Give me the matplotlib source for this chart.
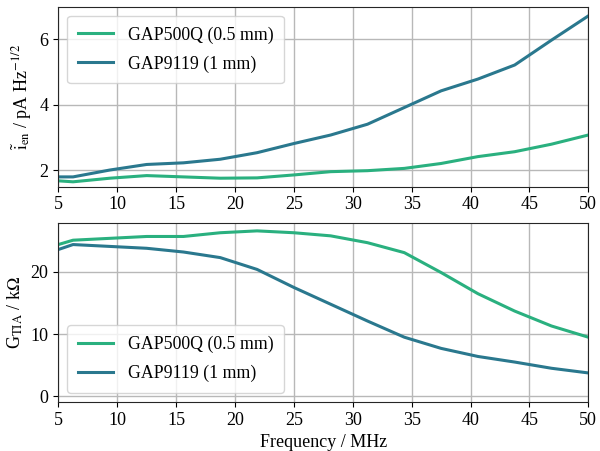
import matplotlib
matplotlib.use("Agg")
import matplotlib.pyplot as plt

freq = [5, 6.25, 9.375, 12.5, 15.625, 18.75, 21.875, 25, 28.125, 31.25,
        34.375, 37.5, 40.625, 43.75, 46.875, 50]

noise_500q = [1.68, 1.65, 1.76, 1.84, 1.80, 1.76, 1.77, 1.86, 1.96, 1.99,
              2.06, 2.21, 2.42, 2.57, 2.80, 3.08]
noise_9119 = [1.80, 1.80, 2.01, 2.18, 2.23, 2.34, 2.54, 2.82, 3.08, 3.41,
              3.92, 4.43, 4.79, 5.22, 5.98, 6.72]

gain_500q = [24.4, 25.1, 25.4, 25.7, 25.7, 26.3, 26.6, 26.3, 25.8, 24.7,
             23.1, 19.9, 16.5, 13.7, 11.3, 9.5]
gain_9119 = [23.6, 24.4, 24.1, 23.8, 23.2, 22.3, 20.4, 17.5, 14.8, 12.1,
             9.5, 7.7, 6.4, 5.5, 4.5, 3.75]

labels = ["GAP500Q (0.5 mm)", "GAP9119 (1 mm)"]
xticks = [5, 10, 15, 20, 25, 30, 35, 40, 45, 50]

plt.rcParams['font.family'] = ['Liberation Serif', 'DejaVu Serif']
plt.rcParams['mathtext.fontset'] = 'stix'
plt.rcParams['font.size'] = 13

c_green = '#2ab07f'
c_blue = '#2a788e'

fig = plt.figure(figsize=(6.0, 4.51), dpi=100)
ax1 = fig.add_axes([0.0972, 0.586, 0.8833, 0.399])
ax2 = fig.add_axes([0.0972, 0.109, 0.8833, 0.397])

ax1.plot(freq, noise_500q, color=c_green, lw=2.2, label=labels[0])
ax1.plot(freq, noise_9119, color=c_blue, lw=2.2, label=labels[1])
ax1.set_xlim(5, 50)
ax1.set_ylim(1.5, 7.0)
ax1.set_yticks([2, 4, 6])
ax1.set_xticks(xticks)
ax1.set_ylabel(r'$\tilde{\mathrm{i}}_{\mathrm{en}}$ / pA Hz$^{-1/2}$', fontsize=13)
ax1.legend(loc='upper left', fontsize=12.8, handlelength=2.0, borderpad=0.6,
           labelspacing=0.65)

ax2.plot(freq, gain_500q, color=c_green, lw=2.2, label=labels[0])
ax2.plot(freq, gain_9119, color=c_blue, lw=2.2, label=labels[1])
ax2.set_xlim(5, 50)
ax2.set_ylim(-0.9, 27.9)
ax2.set_yticks([0, 10, 20])
ax2.set_xticks(xticks)
ax2.set_ylabel(r'G$_{\mathrm{TIA}}$ / k$\Omega$', fontsize=13)
ax2.set_xlabel('Frequency / MHz', fontsize=13)
ax2.legend(loc='lower left', fontsize=12.8, handlelength=2.0, borderpad=0.6,
           labelspacing=0.65)

for ax in (ax1, ax2):
    ax.grid(True, color='#b8b8b8', lw=1)
    ax.tick_params(labelsize=13)
    for s in ax.spines.values():
        s.set_color('#262626')

fig.savefig('out.png', dpi=100)
